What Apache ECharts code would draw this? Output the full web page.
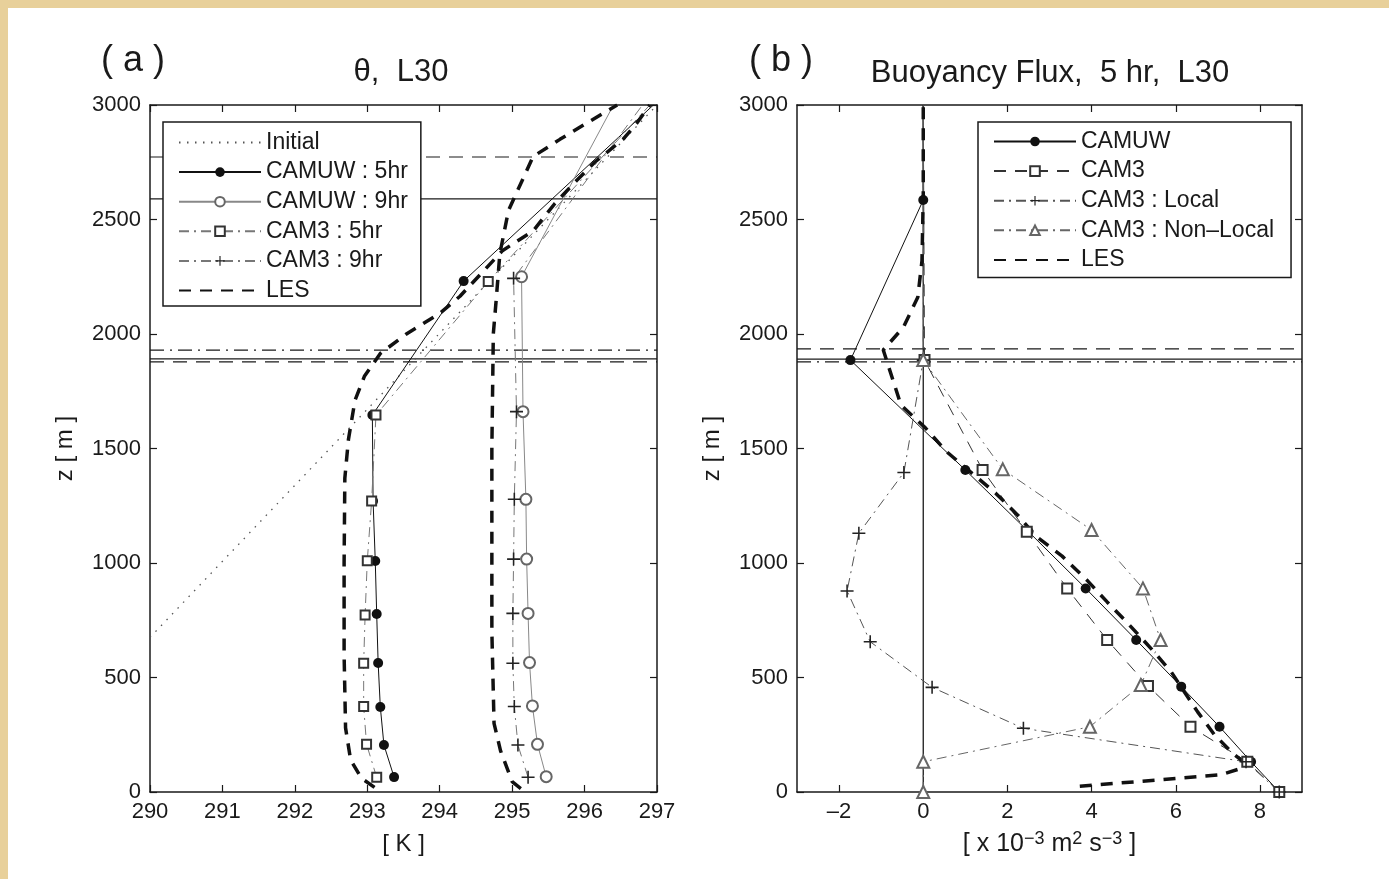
<!DOCTYPE html>
<html><head><meta charset="utf-8">
<script src="https://cdn.jsdelivr.net/npm/echarts@6/dist/echarts.min.js"></script>
<style>
html,body{margin:0;padding:0;width:1389px;height:879px;overflow:hidden;background:#e8d09a;}
#frame{position:absolute;left:8px;top:8px;width:1381px;height:871px;background:#fff;}
#chart{position:absolute;left:0;top:0;width:1389px;height:879px;}
</style></head><body>
<div id="frame"></div>
<div id="chart"></div>
<script>
// ---------------- data : panel (a) potential temperature ----------------
const thetaMin = 290, thetaMax = 297;
const zMin = 0, zMax = 3000;
const initTheta = [290, 297];
const initZ = [675, 3000];
const uw5Theta = [293.37, 293.23, 293.18, 293.15, 293.13, 293.11, 293.08, 293.07, 294.33, 296.95];
const uw5Z     = [65, 205, 371, 563, 777, 1009, 1271, 1646, 2231, 3000];
const uw9Theta = [295.47, 295.35, 295.28, 295.24, 295.22, 295.20, 295.19, 295.15, 295.13, 296.40];
const uw9Z     = [67, 208, 376, 565, 780, 1017, 1278, 1661, 2250, 3000];
const c35Theta = [293.13, 292.99, 292.95, 292.95, 292.97, 293.00, 293.06, 293.12, 294.67, 296.90];
const c35Z     = [64, 208, 373, 562, 773, 1010, 1271, 1646, 2229, 3000];
const c39Theta = [295.22, 295.08, 295.03, 295.01, 295.01, 295.02, 295.03, 295.06, 295.02, 296.80];
const c39Z     = [64, 205, 373, 562, 780, 1017, 1278, 1661, 2243, 3000];
const les5Theta = [293.10, 292.92, 292.77, 292.70, 292.68, 292.68, 292.69, 292.74, 292.83, 292.96, 293.18, 293.54, 294.00, 294.28, 294.87, 295.29, 295.59, 295.89, 296.14, 296.53, 296.72, 296.90];
const les5Z     = [20, 60, 140, 280, 600, 1000, 1370, 1540, 1710, 1815, 1915, 2000, 2090, 2165, 2365, 2450, 2570, 2670, 2750, 2850, 2920, 3000];
const les9Theta = [295.12, 295.00, 294.84, 294.75, 294.72, 294.72, 294.74, 294.78, 294.83, 294.95, 295.29, 295.66, 296.00, 296.45];
const les9Z     = [15, 45, 180, 300, 700, 1500, 2000, 2150, 2350, 2540, 2775, 2850, 2915, 3000];
const pblADashed  = [2773, 1878];
const pblASolid   = [2590, 1891];
const pblADashDot = [1930];

// ---------------- data : panel (b) buoyancy flux ----------------
const fluxMin = -3, fluxMax = 9;
const fluxTicks = [-2, 0, 2, 4, 6, 8];
const bUwFlux = [8.46, 7.79, 7.04, 6.13, 5.06, 3.86, 2.50, 1.00, -1.73, 0.00, 0.00];
const bUwZ    = [0, 132, 285, 460, 664, 889, 1137, 1406, 1886, 2585, 3000];
const bC3Flux = [8.46, 7.70, 6.35, 5.34, 4.37, 3.42, 2.46, 1.41, 0.03, 0.00];
const bC3Z    = [0, 132, 285, 463, 664, 889, 1137, 1406, 1886, 3000];
const bLocFlux = [8.46, 7.67, 2.38, 0.21, -1.26, -1.81, -1.53, -0.46, 0.00, 0.00];
const bLocZ    = [0, 132, 278, 457, 656, 878, 1130, 1395, 1886, 3000];
const bNlFlux = [0.00, 0.00, 3.96, 5.17, 5.64, 5.22, 4.00, 1.89, 0.00, 0.00];
const bNlZ    = [0, 132, 285, 467, 664, 889, 1144, 1409, 1886, 3000];
const bLesFlux = [3.72, 7.06, 7.50, 7.62, 7.35, 6.92, 6.52, 5.89, 5.42, 4.87, 4.37, 3.89, 3.30, 2.69, 2.24, 1.72, 0.56, 0.05, -0.53, -0.95, -0.47, -0.13, -0.03, 0.00, 0.00];
const bLesZ    = [25, 75, 100, 130, 170, 250, 350, 525, 625, 735, 830, 925, 1030, 1115, 1210, 1305, 1485, 1590, 1690, 1930, 2030, 2160, 2320, 2600, 3000];
const zeroFlux = [0, 0];
const zeroZ = [0, 3000];
const pblBDashed  = [1935];
const pblBSolid   = [1890];
const pblBDashDot = [1878];

// ---------------- styling ----------------
const FONT = '"Liberation Sans", Arial, Helvetica, sans-serif';
const INK = '#1a1a1a';
const DASHDOT = [10, 5, 2, 5];
const PLUS = 'path://M4.4,0H5.6V4.4H10V5.6H5.6V10H4.4V5.6H0V4.4H4.4Z';

// last point of a profile (the edge of the plot) carries no marker
function pts(xs, zs, markedCount) {
  return xs.map((x, i) => i < markedCount ? [x, zs[i]] : { value: [x, zs[i]], symbol: 'none' });
}
function hline(z, x0, x1) { return [[x0, z], [x1, z]]; }

function xAx(grid, min, max, opts) {
  const o = {
    gridIndex: grid, type: 'value', min: min, max: max,
    axisLine: { onZero: false, lineStyle: { color: INK, width: 1.5 } },
    axisTick: { inside: true, length: 7, lineStyle: { color: INK, width: 1.2 } },
    axisLabel: { fontSize: 22, color: INK, fontFamily: FONT, margin: 9, formatter: v => String(v) },
    splitLine: { show: false }
  };
  return Object.assign(o, opts || {});
}
function yAx(grid, opts) {
  const o = {
    gridIndex: grid, type: 'value', min: zMin, max: zMax, interval: 500,
    axisLine: { onZero: false, lineStyle: { color: INK, width: 1.5 } },
    axisTick: { inside: true, length: 7, lineStyle: { color: INK, width: 1.2 } },
    axisLabel: { fontSize: 22, color: INK, fontFamily: FONT, margin: 9, formatter: v => String(v) },
    splitLine: { show: false }
  };
  return Object.assign(o, opts || {});
}
const nameStyle = { fontSize: 24, color: INK, fontFamily: FONT };
const fluxLabelFmt = v => (v < 0 ? '\u2013' + Math.abs(v) : String(v));

function lineS(name, xi, data, extra) {
  return Object.assign({
    name: name, type: 'line', xAxisIndex: xi, yAxisIndex: xi, data: data,
    animation: false, clip: true, z: 3
  }, extra);
}
function pblS(name, xi, data, type, width) {
  return lineS(name, xi, data, { symbol: 'none', silent: true, z: 2, itemStyle: { color: INK },
    lineStyle: { color: INK, width: width || 1.2, type: type } });
}
const lesStyle = { symbol: 'none', itemStyle: { color: '#111' }, lineStyle: { color: '#111', width: 3.5, type: [12, 9] } };

const series = [
  // panel a
  lineS('Initial', 0, pts(initTheta, initZ, 0), { symbol: 'none', itemStyle: { color: '#555' }, lineStyle: { color: '#555', width: 1.3, type: [1.5, 6.5] } }),
  lineS('CAMUW : 5hr', 0, pts(uw5Theta, uw5Z, 9), { symbol: 'circle', symbolSize: 10, itemStyle: { color: '#111' }, lineStyle: { color: '#111', width: 1 } }),
  lineS('CAMUW : 9hr', 0, pts(uw9Theta, uw9Z, 9), { symbol: 'emptyCircle', symbolSize: 11, itemStyle: { color: '#666', borderWidth: 1.2 }, lineStyle: { color: '#888', width: 1 } }),
  lineS('CAM3 : 5hr', 0, pts(c35Theta, c35Z, 9), { symbol: 'emptyRect', symbolSize: 9, itemStyle: { color: '#333', borderWidth: 1 }, lineStyle: { color: '#777', width: 1, type: DASHDOT } }),
  lineS('CAM3 : 9hr', 0, pts(c39Theta, c39Z, 9), { symbol: PLUS, symbolSize: 13, itemStyle: { color: '#222' }, lineStyle: { color: '#777', width: 1, type: DASHDOT } }),
  lineS('LES', 0, pts(les5Theta, les5Z, 0), lesStyle),
  lineS('LES', 0, pts(les9Theta, les9Z, 0), lesStyle),
  ...pblADashed.map((z, i) => pblS('pblAdash' + i, 0, hline(z, thetaMin, thetaMax), [14, 9])),
  ...pblASolid.map((z, i) => pblS('pblAsolid' + i, 0, hline(z, thetaMin, thetaMax), 'solid')),
  ...pblADashDot.map((z, i) => pblS('pblAdd' + i, 0, hline(z, thetaMin, thetaMax), [14, 6, 2, 6])),
  // panel b
  pblS('zeroLine', 2, pts(zeroFlux, zeroZ, 0), 'solid', 1.3),
  ...pblBDashed.map((z, i) => pblS('pblBdash' + i, 2, hline(z, fluxMin, fluxMax), [14, 9])),
  ...pblBSolid.map((z, i) => pblS('pblBsolid' + i, 2, hline(z, fluxMin, fluxMax), 'solid')),
  ...pblBDashDot.map((z, i) => pblS('pblBdd' + i, 2, hline(z, fluxMin, fluxMax), [14, 6, 2, 6])),
  lineS('CAMUW', 2, pts(bUwFlux, bUwZ, 10), { symbol: 'circle', symbolSize: 10, itemStyle: { color: '#111' }, lineStyle: { color: '#111', width: 1 } }),
  lineS('CAM3', 2, pts(bC3Flux, bC3Z, 9), { symbol: 'emptyRect', symbolSize: 10, itemStyle: { color: '#333', borderWidth: 1 }, lineStyle: { color: '#333', width: 1, type: [12, 9] } }),
  lineS('CAM3 : Local', 2, pts(bLocFlux, bLocZ, 9), { symbol: PLUS, symbolSize: 13, itemStyle: { color: '#222' }, lineStyle: { color: '#555', width: 1, type: DASHDOT } }),
  lineS('CAM3 : Non\u2013Local', 2, pts(bNlFlux, bNlZ, 9), { symbol: 'emptyTriangle', symbolSize: 12, itemStyle: { color: '#666', borderWidth: 1 }, lineStyle: { color: '#666', width: 1, type: DASHDOT } }),
  lineS('LES', 2, pts(bLesFlux, bLesZ, 0), lesStyle)
];

const legendCommon = {
  orient: 'vertical', itemWidth: 82, itemHeight: 12, itemGap: 6.6,
  borderColor: INK, borderWidth: 1.5, backgroundColor: '#fff', borderRadius: 0,
  textStyle: { fontSize: 23, color: INK, fontFamily: FONT },
  selectedMode: false, z: 10
};
const noMark = name => ({ name: name, itemStyle: { opacity: 0 } });

const option = {
  animation: false,
  textStyle: { fontFamily: FONT },
  grid: [
    { left: 150, top: 105, width: 507, height: 687 },
    { left: 797, top: 105, width: 505, height: 687 }
  ],
  xAxis: [
    xAx(0, thetaMin, thetaMax, { interval: 1, position: 'bottom', name: '[ K ]', nameLocation: 'middle', nameGap: 40, nameTextStyle: nameStyle }),
    xAx(0, thetaMin, thetaMax, { interval: 1, position: 'top', axisLabel: { show: false } }),
    xAx(1, fluxMin, fluxMax, {
      position: 'bottom',
      axisTick: { inside: true, length: 7, lineStyle: { color: INK, width: 1.2 }, customValues: fluxTicks },
      axisLabel: { fontSize: 22, color: INK, fontFamily: FONT, margin: 9, customValues: fluxTicks, formatter: fluxLabelFmt },
      name: '[ x 10{sup|\u22123} m{sup|2} s{sup|\u22123} ]', nameLocation: 'middle', nameGap: 38,
      nameTextStyle: { fontSize: 25, color: INK, fontFamily: FONT, rich: { sup: { fontSize: 18, color: INK, fontFamily: FONT, verticalAlign: 'top', padding: [0, 0, 10, 0] } } }
    }),
    xAx(1, fluxMin, fluxMax, {
      position: 'top',
      axisTick: { inside: true, length: 7, lineStyle: { color: INK, width: 1.2 }, customValues: fluxTicks },
      axisLabel: { show: false }
    })
  ],
  yAxis: [
    yAx(0, { position: 'left', name: 'z [ m ]', nameLocation: 'middle', nameGap: 73, nameRotate: 90, nameTextStyle: nameStyle }),
    yAx(0, { position: 'right', axisLabel: { show: false } }),
    yAx(1, { position: 'left', name: 'z [ m ]', nameLocation: 'middle', nameGap: 73, nameRotate: 90, nameTextStyle: nameStyle }),
    yAx(1, { position: 'right', axisLabel: { show: false } })
  ],
  legend: [
    Object.assign({}, legendCommon, { left: 163, top: 122, padding: [9, 13, 4, 15],
      data: [noMark('Initial'), 'CAMUW : 5hr', 'CAMUW : 9hr', 'CAM3 : 5hr', 'CAM3 : 9hr', noMark('LES')] }),
    Object.assign({}, legendCommon, { left: 978, top: 122, padding: [8, 17, 6, 15],
      data: ['CAMUW', 'CAM3', 'CAM3 : Local', 'CAM3 : Non\u2013Local', noMark('LES')] })
  ],
  graphic: [
    { type: 'text', x: 133, y: 61, style: { text: '( a )', fontSize: 36, fontFamily: FONT, fill: INK, align: 'center', verticalAlign: 'middle' } },
    { type: 'text', x: 401, y: 72, style: { text: '\u03b8,  L30', fontSize: 31, fontFamily: FONT, fill: INK, align: 'center', verticalAlign: 'middle' } },
    { type: 'text', x: 781, y: 61, style: { text: '( b )', fontSize: 36, fontFamily: FONT, fill: INK, align: 'center', verticalAlign: 'middle' } },
    { type: 'text', x: 1050, y: 73, style: { text: 'Buoyancy Flux,  5 hr,  L30', fontSize: 31, fontFamily: FONT, fill: INK, align: 'center', verticalAlign: 'middle' } }
  ],
  series: series
};

const chart = echarts.init(document.getElementById('chart'), null, { renderer: 'canvas' });
chart.setOption(option);
</script>
</body></html>
